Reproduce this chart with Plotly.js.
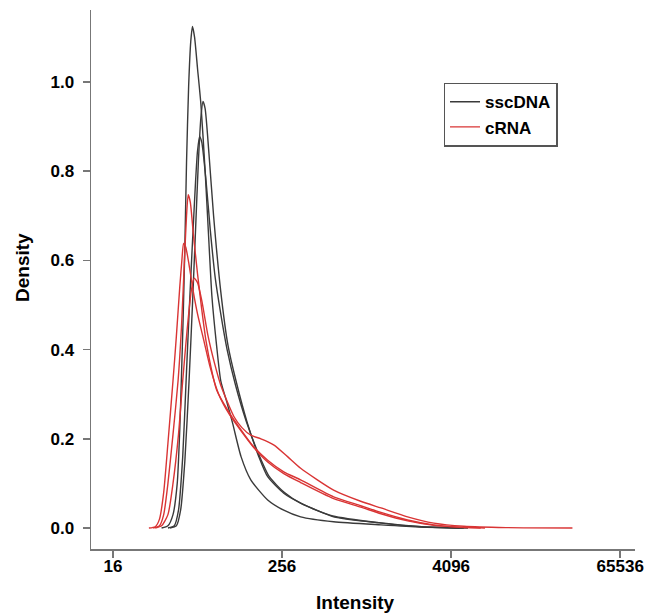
<!DOCTYPE html>
<html>
<head>
<meta charset="utf-8">
<script src="https://cdn.plot.ly/plotly-3.0.1.min.js"></script>
<style>html,body{margin:0;padding:0;background:#fff;} #chart{width:645px;height:613px;}</style>
</head>
<body>
<div id="chart"></div>
<script>
// x values are log2(Intensity); y values are density
const sscDNA_1_log2 = [5.15,5.30,5.42,5.52,5.58,5.62,5.66,5.70,5.74,5.79,5.84,5.88,5.93,6.00,6.08,6.18,6.27,6.34,6.45,6.55,6.70,6.83,7.03,7.26,7.66,8.04,8.44,9.22,10.34,11.3,12.2];
const sscDNA_1_dens = [0,0.005,0.03,0.10,0.22,0.34,0.47,0.63,0.82,0.99,1.09,1.124,1.10,1.03,0.95,0.80,0.64,0.52,0.41,0.33,0.28,0.235,0.16,0.108,0.063,0.04,0.025,0.014,0.007,0.002,0];

const sscDNA_2_log2 = [5.35,5.50,5.60,5.70,5.80,5.88,5.95,6.02,6.08,6.13,6.18,6.27,6.38,6.55,6.72,6.91,7.18,7.45,7.66,8.04,8.44,9.22,10.34,11.3,12.3];
const sscDNA_2_dens = [0,0.005,0.04,0.15,0.33,0.50,0.66,0.82,0.92,0.956,0.94,0.84,0.70,0.53,0.41,0.33,0.235,0.16,0.115,0.078,0.056,0.025,0.011,0.003,0];

const sscDNA_3_log2 = [5.30,5.45,5.55,5.65,5.73,5.80,5.88,5.95,6.00,6.05,6.10,6.20,6.30,6.42,6.55,6.70,6.90,7.15,7.45,7.70,8.05,8.45,9.20,10.3,11.3,12.4];
const sscDNA_3_dens = [0,0.005,0.04,0.16,0.33,0.48,0.64,0.77,0.845,0.877,0.865,0.78,0.67,0.56,0.48,0.40,0.32,0.24,0.165,0.115,0.08,0.055,0.027,0.012,0.003,0];

const cRNA_1_log2 = [4.95,5.10,5.20,5.30,5.42,5.54,5.62,5.70,5.74,5.78,5.83,5.90,6.00,6.10,6.20,6.32,6.45,6.71,7.03,7.33,7.66,8.04,8.44,9.22,9.86,10.34,10.97,11.59,12.15,12.7];
const cRNA_1_dens = [0,0.005,0.03,0.10,0.21,0.33,0.45,0.62,0.70,0.747,0.73,0.66,0.57,0.49,0.42,0.36,0.31,0.265,0.22,0.182,0.152,0.126,0.108,0.07,0.05,0.035,0.018,0.007,0.002,0];

const cRNA_2_log2 = [4.85,5.00,5.10,5.20,5.30,5.42,5.50,5.58,5.63,5.67,5.72,5.80,5.90,6.00,6.15,6.30,6.50,6.75,7.05,7.35,7.66,8.04,8.44,9.22,9.86,10.34,10.97,11.59,12.2,12.8];
const cRNA_2_dens = [0,0.003,0.02,0.08,0.19,0.33,0.43,0.54,0.60,0.638,0.63,0.59,0.53,0.48,0.42,0.36,0.30,0.255,0.215,0.178,0.148,0.122,0.102,0.066,0.047,0.032,0.016,0.006,0.002,0];

const cRNA_3_log2 = [5.00,5.15,5.30,5.42,5.55,5.65,5.75,5.85,5.92,6.00,6.10,6.25,6.40,6.55,6.86,7.05,7.26,7.50,7.81,8.13,8.44,9.22,9.86,10.34,10.97,11.59,12.3,13.3,14.87];
const cRNA_3_dens = [0,0.005,0.03,0.10,0.21,0.33,0.44,0.53,0.56,0.55,0.51,0.43,0.37,0.32,0.25,0.225,0.208,0.20,0.186,0.16,0.134,0.085,0.06,0.045,0.025,0.011,0.004,0.001,0];

const groupNames = ['sscDNA', 'cRNA'];
const tickValues = [16, 256, 4096, 65536];
const tickLabels = ['16', '256', '4096', '65536'];
const yTickValues = [0, 0.2, 0.4, 0.6, 0.8, 1.0];
const yTickLabels = ['0.0', '0.2', '0.4', '0.6', '0.8', '1.0'];
const xTitle = 'Intensity';
const yTitle = 'Density';

const toIntensity = a => a.map(v => Math.pow(2, v));
const colors = {sscDNA: '#3a3a3a', cRNA: '#d93434'};

const series = [
  {g: groupNames[0], x: sscDNA_1_log2, y: sscDNA_1_dens, first: true},
  {g: groupNames[0], x: sscDNA_2_log2, y: sscDNA_2_dens},
  {g: groupNames[0], x: sscDNA_3_log2, y: sscDNA_3_dens},
  {g: groupNames[1], x: cRNA_1_log2, y: cRNA_1_dens, first: true},
  {g: groupNames[1], x: cRNA_2_log2, y: cRNA_2_dens},
  {g: groupNames[1], x: cRNA_3_log2, y: cRNA_3_dens}
];

const traces = series.map(s => ({
  type: 'scatter', mode: 'lines',
  x: toIntensity(s.x), y: s.y,
  name: s.g, legendgroup: s.g, showlegend: !!s.first,
  line: {color: colors[s.g], width: 1.4, shape: 'spline', smoothing: 0.6},
  hoverinfo: 'skip'
}));

const fam = 'Liberation Sans, Arial, sans-serif';
const tickFont = {family: fam, size: 17, color: '#000', weight: 'bold'};
const titleFont = {family: fam, size: 19, color: '#000', weight: 'bold'};

const layout = {
  width: 645, height: 613,
  margin: {l: 91, r: 10, t: 10, b: 64},
  paper_bgcolor: '#fff', plot_bgcolor: '#fff',
  showlegend: true,
  legend: {
    x: 0.648, y: 0.865, xanchor: 'left', yanchor: 'top',
    bordercolor: '#555', borderwidth: 1.5, bgcolor: '#fff',
    font: {family: fam, size: 17, color: '#000', weight: 'bold'},
    itemwidth: 30, tracegroupgap: 0
  },
  xaxis: {
    type: 'log',
    range: [Math.log10(Math.pow(2, 3.48)), Math.log10(Math.pow(2, 16.35))],
    tickvals: tickValues, ticktext: tickLabels,
    showline: true, linecolor: '#777', linewidth: 1.5,
    ticks: 'outside', ticklen: 7, tickcolor: '#777', tickwidth: 1.5,
    ticklabelstandoff: -6,
    showgrid: false, zeroline: false,
    tickfont: tickFont
  },
  yaxis: {
    range: [-0.047, 1.161],
    tickvals: yTickValues, ticktext: yTickLabels,
    showline: true, linecolor: '#777', linewidth: 1.5,
    ticks: 'outside', ticklen: 7, tickcolor: '#777', tickwidth: 1.5,
    ticklabelstandoff: 5,
    showgrid: false, zeroline: false,
    tickfont: tickFont
  },
  annotations: [
    {text: xTitle, xref: 'paper', yref: 'paper', x: 0.486, y: -0.1, xanchor: 'center', yanchor: 'middle', showarrow: false, font: titleFont},
    {text: yTitle, xref: 'paper', yref: 'paper', x: -0.127, y: 0.523, xanchor: 'center', yanchor: 'middle', textangle: -90, showarrow: false, font: titleFont}
  ]
};

Plotly.newPlot('chart', traces, layout, {displayModeBar: false, staticPlot: true});
</script>
</body>
</html>
